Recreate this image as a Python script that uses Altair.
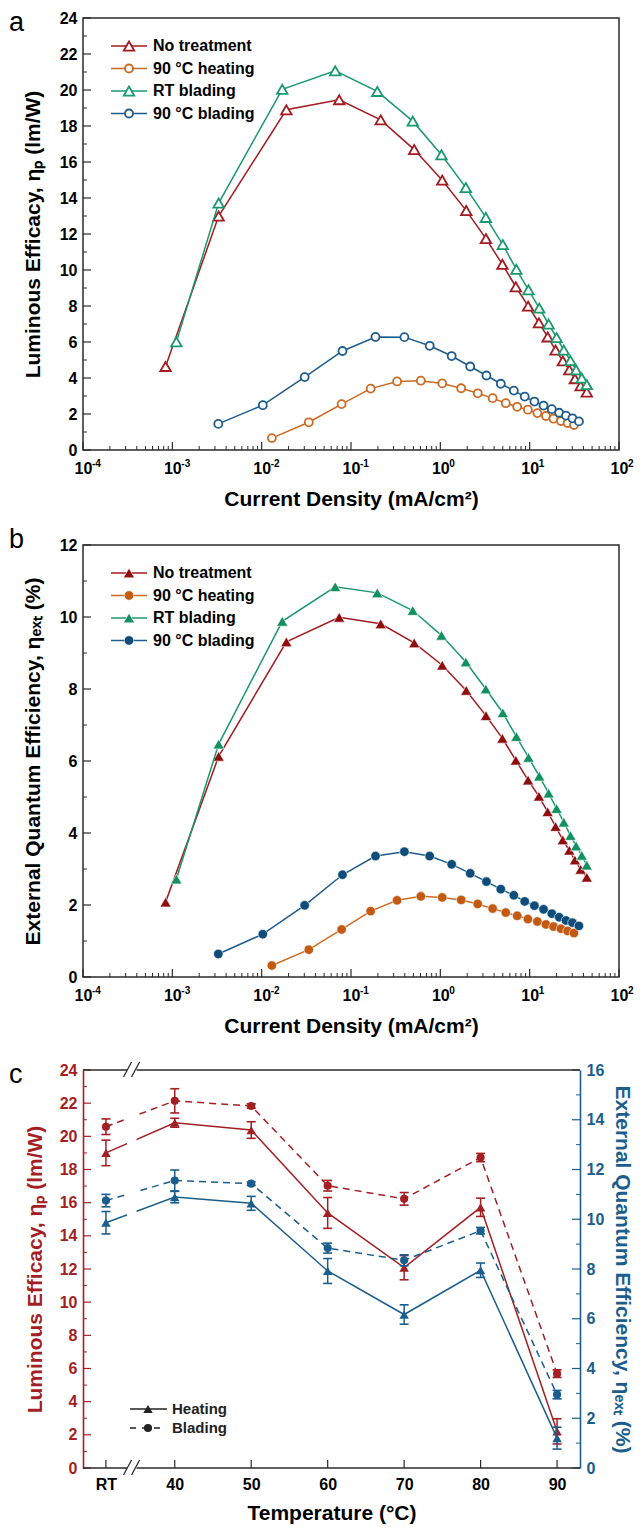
import altair as alt
import pandas as pd

# ---------------- Panel a / b data (current density, mA/cm2) ----------------
J_NT = [0.00084, 0.0033, 0.0189, 0.0738, 0.215, 0.51, 1.05, 1.95, 3.24, 4.95,
        7.0, 9.6, 12.7, 15.9, 19.5, 23.5, 27.8, 32.1, 37.2, 43.6]
LE_NT = [4.64, 13.0, 18.9, 19.46, 18.34, 16.69, 14.99, 13.3, 11.74, 10.31,
         9.07, 7.99, 7.07, 6.28, 5.55, 4.95, 4.45, 3.96, 3.57, 3.22]
EQE_NT = [2.08, 6.13, 9.31, 9.99, 9.81, 9.28, 8.66, 7.96, 7.26, 6.63,
          6.02, 5.47, 5.02, 4.59, 4.18, 3.81, 3.52, 3.25, 2.99, 2.77]

J_RT = [0.00111, 0.0033, 0.017, 0.0666, 0.197, 0.491, 1.03, 1.93, 3.23, 5.0,
        7.1, 9.7, 12.8, 16.3, 20.0, 24.1, 28.6, 33.1, 38.3, 43.6]
LE_RT = [6.01, 13.72, 20.04, 21.07, 19.92, 18.27, 16.4, 14.58, 12.92, 11.41,
         10.04, 8.9, 7.88, 7.0, 6.25, 5.55, 4.97, 4.45, 3.99, 3.63]
EQE_RT = [2.72, 6.47, 9.88, 10.84, 10.67, 10.18, 9.49, 8.75, 8.0, 7.34,
          6.68, 6.10, 5.58, 5.11, 4.68, 4.30, 3.93, 3.64, 3.38, 3.11]

J_H90 = [0.013, 0.0337, 0.0785, 0.166, 0.328, 0.605, 1.05, 1.71, 2.62, 3.85,
         5.4, 7.25, 9.55, 12.2, 15.2, 18.5, 22.4, 26.6, 31.3]
LE_H90 = [0.66, 1.54, 2.55, 3.41, 3.81, 3.85, 3.70, 3.43, 3.15, 2.88,
          2.60, 2.40, 2.24, 2.05, 1.89, 1.74, 1.61, 1.50, 1.39]
EQE_H90 = [0.32, 0.76, 1.32, 1.83, 2.13, 2.24, 2.21, 2.14, 2.03, 1.90,
           1.79, 1.70, 1.61, 1.54, 1.46, 1.40, 1.34, 1.28, 1.22]

J_B90 = [0.00327, 0.0103, 0.0303, 0.0803, 0.188, 0.396, 0.76, 1.34, 2.16, 3.28,
         4.75, 6.65, 8.8, 11.3, 14.3, 17.7, 21.4, 25.5, 30.1, 35.6]
LE_B90 = [1.45, 2.49, 4.05, 5.50, 6.28, 6.27, 5.79, 5.22, 4.64, 4.14,
          3.68, 3.30, 2.97, 2.69, 2.47, 2.27, 2.07, 1.91, 1.76, 1.59]
EQE_B90 = [0.64, 1.19, 1.99, 2.84, 3.36, 3.48, 3.36, 3.13, 2.88, 2.65,
           2.44, 2.27, 2.10, 1.98, 1.88, 1.76, 1.66, 1.57, 1.51, 1.42]

SERIES_NAMES = ["No treatment", "90 °C heating", "RT blading", "90 °C blading"]

# ---------------- Panel c data ----------------
TEMP_LABELS = ["RT", "40", "50", "60", "70", "80", "90"]
TEMP_POS = [31, 40, 50, 60, 70, 80, 90]
LE_HEAT = [19.0, 20.82, 20.38, 15.38, 12.08, 15.72, 2.21]
LE_HEAT_ERR = [0.77, 0.27, 0.5, 0.93, 0.73, 0.55, 0.76]
LE_BLADE = [20.58, 22.14, 21.83, 17.02, 16.23, 18.72, 5.69]
LE_BLADE_ERR = [0.47, 0.73, 0.13, 0.32, 0.38, 0.25, 0.23]
EQE_HEAT = [9.86, 10.89, 10.64, 7.92, 6.17, 7.95, 1.2]
EQE_HEAT_ERR = [0.45, 0.23, 0.28, 0.5, 0.39, 0.29, 0.44]
EQE_BLADE = [10.75, 11.56, 11.43, 8.84, 8.35, 9.54, 2.95]
EQE_BLADE_ERR = [0.25, 0.42, 0.07, 0.2, 0.22, 0.13, 0.17]

# ---------------- tick arrays ----------------
DECADES = [1e-4, 1e-3, 1e-2, 1e-1, 1e0, 1e1, 1e2]
DECADE_EXP = ["-4", "-3", "-2", "-1", "0", "1", "2"]
MINOR_X = [k * d for d in DECADES[:-1] for k in range(2, 10)]

# ---------------- styles ----------------
FONT = "Liberation Sans"
AX = "#2b2b2b"
RED, ORANGE, GREEN, BLUE = "#A31B20", "#CC6A22", "#1A9A6C", "#1D5C8C"
RED_F, ORANGE_F, GREEN_F, BLUE_F = "#8E0E10", "#C25A12", "#13905F", "#0E4C7A"
C_RED, C_BLUE = "#A31F24", "#1B5E8D"
TITLE_SIZE = 21

W_AB, H_AB = 536, 432
W_C, H_C = 497, 398
LETTER_X = -74
ONE = pd.DataFrame({"k": [0]})


def letter_layer(letter, y):
    return alt.Chart(ONE).mark_text(
        align="left", baseline="alphabetic", font=FONT, fontSize=27, color="black"
    ).encode(x=alt.value(LETTER_X), y=alt.value(y), text=alt.value(letter))


def log_panel(letter, letter_y, ys_list, y_max, y_title, filled):
    W, H = W_AB, H_AB
    xs = alt.Scale(type="log", domain=[1e-4, 1e2], nice=False)
    ys = alt.Scale(domain=[0, y_max], nice=False, zero=True)
    xax = alt.Axis(values=DECADES, labelExpr="'10'", ticks=False, domain=False, grid=False,
                   labelFlush=False, labelOverlap=False, labelFont=FONT, labelFontSize=16,
                   labelFontWeight="bold", labelColor="black", labelPadding=10,
                   title="Current Density (mA/cm²)", titleFont=FONT, titleFontSize=TITLE_SIZE,
                   titleFontWeight="bold", titleColor="black", titlePadding=12)
    yax = alt.Axis(values=list(range(0, y_max + 1, 2)), ticks=False, domain=False, grid=False,
                   labelFont=FONT, labelFontSize=16, labelFontWeight="bold", labelColor="black",
                   labelPadding=6, labelOverlap=False, title=y_title, titleFont=FONT,
                   titleFontSize=TITLE_SIZE, titleFontWeight="bold", titleColor="black", titlePadding=16)
    X = alt.X("x:Q", scale=xs, axis=xax)
    Y = alt.Y("y:Q", scale=ys, axis=yax)
    layers = []
    layers.append(alt.Chart(pd.DataFrame({"x": MINOR_X})).mark_rule(color=AX, strokeWidth=1)
                  .encode(x=X, y=alt.value(H), y2=alt.value(H - 4)))
    layers.append(alt.Chart(pd.DataFrame({"x": DECADES})).mark_rule(color=AX, strokeWidth=1.2)
                  .encode(x=X, y=alt.value(H), y2=alt.value(H - 8)))
    layers.append(alt.Chart(pd.DataFrame({"y": list(range(0, y_max + 1, 2))})).mark_rule(color=AX, strokeWidth=1.2)
                  .encode(y=Y, x=alt.value(0), x2=alt.value(8)))
    layers.append(alt.Chart(pd.DataFrame({"y": list(range(1, y_max, 2))})).mark_rule(color=AX, strokeWidth=1)
                  .encode(y=Y, x=alt.value(0), x2=alt.value(4)))
    layers.append(alt.Chart(pd.DataFrame({"x": DECADES, "e": DECADE_EXP})).mark_text(
        align="left", baseline="top", dx=9, font=FONT, fontSize=10, fontWeight="bold", color="black"
    ).encode(x=X, y=alt.value(H + 9), text="e:N"))

    xs_list = [J_NT, J_H90, J_RT, J_B90]
    colors = [RED, ORANGE, GREEN, BLUE] if not filled else [RED_F, ORANGE_F, GREEN_F, BLUE_F]
    line_colors = [RED, ORANGE, GREEN, BLUE]
    shapes = ["triangle-up", "circle", "triangle-up", "circle"]
    for xv, yv, col, lcol, shp in zip(xs_list, ys_list, colors, line_colors, shapes):
        df = pd.DataFrame({"x": xv, "y": yv})
        layers.append(alt.Chart(df).mark_line(color=lcol, strokeWidth=1.5).encode(x=X, y=Y))
        if filled:
            size = 125 if shp == "triangle-up" else 90
            pt = alt.Chart(df).mark_point(shape=shp, size=size, filled=True, fill=col, stroke="white",
                                          strokeWidth=0.6, opacity=1)
        else:
            size = 110 if shp == "triangle-up" else 64
            pt = alt.Chart(df).mark_point(shape=shp, size=size, filled=True, fill="white", stroke=lcol,
                                          strokeWidth=1.8, opacity=1)
        layers.append(pt.encode(x=X, y=Y))

    # legend
    for i, (name, col, lcol, shp) in enumerate(zip(SERIES_NAMES, colors, line_colors, shapes)):
        ly = 28 + i * 22.5
        layers.append(alt.Chart(ONE).mark_rule(color=lcol, strokeWidth=1.5)
                      .encode(x=alt.value(28), x2=alt.value(64), y=alt.value(ly)))
        if filled:
            size = 125 if shp == "triangle-up" else 90
            m = alt.Chart(ONE).mark_point(shape=shp, size=size, filled=True, fill=col, stroke="white",
                                          strokeWidth=0.6, opacity=1)
        else:
            size = 110 if shp == "triangle-up" else 64
            m = alt.Chart(ONE).mark_point(shape=shp, size=size, filled=True, fill="white", stroke=lcol,
                                          strokeWidth=1.8, opacity=1)
        layers.append(m.encode(x=alt.value(46), y=alt.value(ly)))
        layers.append(alt.Chart(ONE).mark_text(align="left", baseline="middle", font=FONT, fontSize=16,
                                               fontWeight="bold", color="black")
                      .encode(x=alt.value(70), y=alt.value(ly), text=alt.value(name)))
    layers.append(letter_layer(letter, letter_y))
    return alt.layer(*layers).properties(width=W, height=H)


pa = log_panel("a", 13, [LE_NT, LE_H90, LE_RT, LE_B90], 24, "Luminous Efficacy, ηₚ (lm/W)", False)
pb = log_panel("b", 3, [EQE_NT, EQE_H90, EQE_RT, EQE_B90], 12,
               "External Quantum Efficiency, ηₑₓₜ (%)", True)

# ---------------- Panel c ----------------
W, H = W_C, H_C
xs_c = alt.Scale(domain=[28, 93], nice=False, zero=False)
xax_c = alt.Axis(values=TEMP_POS, labelExpr="datum.value == 31 ? 'RT' : datum.label", ticks=False,
                 domain=False, grid=False, labelFlush=False, labelOverlap=False, labelFont=FONT,
                 labelFontSize=16, labelFontWeight="bold", labelColor="black", labelPadding=8,
                 title="Temperature (°C)", titleFont=FONT, titleFontSize=TITLE_SIZE, titleFontWeight="bold",
                 titleColor="black", titlePadding=10)
ys_l = alt.Scale(domain=[0, 24], nice=False)
ys_r = alt.Scale(domain=[0, 16], nice=False)
yax_l = alt.Axis(orient="left", values=list(range(0, 25, 2)), ticks=False, grid=False, domain=True,
                 domainColor=C_RED, domainWidth=1.6, labelColor=C_RED, labelFont=FONT, labelFontSize=16,
                 labelFontWeight="bold", labelPadding=6, title="Luminous Efficacy, ηₚ (lm/W)",
                 titleColor=C_RED, titleFont=FONT, titleFontSize=TITLE_SIZE, titleFontWeight="bold",
                 titlePadding=14)
yax_r = alt.Axis(orient="right", values=list(range(0, 17, 2)), ticks=False, grid=False, domain=True,
                 domainColor=C_BLUE, domainWidth=1.6, labelColor=C_BLUE, labelFont=FONT, labelFontSize=16,
                 labelFontWeight="bold", labelPadding=6, title="External Quantum Efficiency, ηₑₓₜ (%)",
                 titleColor=C_BLUE, titleFont=FONT, titleFontSize=TITLE_SIZE, titleFontWeight="bold",
                 titlePadding=8)
Xc = alt.X("x:Q", scale=xs_c, axis=xax_c)


def err_df(vals, errs):
    return pd.DataFrame({"x": TEMP_POS, "y": vals,
                         "lo": [v - e for v, e in zip(vals, errs)],
                         "hi": [v + e for v, e in zip(vals, errs)]})


def series_layers(df, color, yscale, yaxis, dashed, shape):
    Yv = alt.Y("y:Q", scale=yscale, axis=yaxis)
    Ylo = alt.Y("lo:Q", scale=yscale, axis=yaxis)
    Yhi = alt.Y("hi:Q", scale=yscale, axis=yaxis)
    lk = dict(color=color, strokeWidth=1.5)
    if dashed:
        lk["strokeDash"] = [7, 5]
    out = [alt.Chart(df).mark_line(**lk).encode(x=Xc, y=Yv),
           alt.Chart(df).mark_rule(color=color, strokeWidth=1.5).encode(x=Xc, y=Ylo, y2="hi:Q"),
           alt.Chart(df).mark_tick(orient="horizontal", size=9, thickness=1.6, color=color, opacity=1)
           .encode(x=Xc, y=Ylo),
           alt.Chart(df).mark_tick(orient="horizontal", size=9, thickness=1.6, color=color, opacity=1)
           .encode(x=Xc, y=Yhi),
           alt.Chart(df).mark_point(shape=shape, size=90 if shape == "triangle-up" else 66, filled=True,
                                    color=color, opacity=1).encode(x=Xc, y=Yv)]
    return out


Yl = alt.Y("y:Q", scale=ys_l, axis=yax_l)
Yr = alt.Y("y:Q", scale=ys_r, axis=yax_r)

left_layers = [
    alt.Chart(pd.DataFrame({"y": list(range(0, 25, 2))})).mark_rule(color=C_RED, strokeWidth=1.2)
    .encode(y=Yl, x=alt.value(0), x2=alt.value(8)),
    alt.Chart(pd.DataFrame({"y": list(range(1, 24, 2))})).mark_rule(color=C_RED, strokeWidth=1)
    .encode(y=Yl, x=alt.value(0), x2=alt.value(4)),
    alt.Chart(pd.DataFrame({"x": TEMP_POS})).mark_rule(color=AX, strokeWidth=1.2)
    .encode(x=Xc, y=alt.value(H), y2=alt.value(H - 8)),
]
left_layers += series_layers(err_df(LE_HEAT, LE_HEAT_ERR), C_RED, ys_l, yax_l, False, "triangle-up")
left_layers += series_layers(err_df(LE_BLADE, LE_BLADE_ERR), C_RED, ys_l, yax_l, True, "circle")

right_layers = [
    alt.Chart(pd.DataFrame({"y": list(range(0, 17, 2))})).mark_rule(color=C_BLUE, strokeWidth=1.2)
    .encode(y=Yr, x=alt.value(W), x2=alt.value(W - 8)),
    alt.Chart(pd.DataFrame({"y": list(range(1, 16, 2))})).mark_rule(color=C_BLUE, strokeWidth=1)
    .encode(y=Yr, x=alt.value(W), x2=alt.value(W - 4)),
]
right_layers += series_layers(err_df(EQE_HEAT, EQE_HEAT_ERR), C_BLUE, ys_r, yax_r, False, "triangle-up")
right_layers += series_layers(err_df(EQE_BLADE, EQE_BLADE_ERR), C_BLUE, ys_r, yax_r, True, "circle")

# axis break (between RT and 40)
BREAK_GAP = pd.DataFrame({"x": [33.75], "x2": [35.0]})
AXIS_SEGMENTS = pd.DataFrame({"x": [28, 35.0], "x2": [33.75, 93]})
BREAK_SLASHES = pd.DataFrame({"x": [33.3, 34.35], "x2": [34.35, 35.4]})

right_layers.append(alt.Chart(BREAK_GAP).mark_rect(color="white", opacity=1)
                    .encode(x=Xc, x2="x2:Q", y=alt.value(-2), y2=alt.value(H + 2)))
for yy in (0, H):
    right_layers.append(alt.Chart(AXIS_SEGMENTS).mark_rule(color=AX, strokeWidth=1.6)
                        .encode(x=Xc, x2="x2:Q", y=alt.value(yy)))
    right_layers.append(alt.Chart(BREAK_SLASHES).mark_rule(color=AX, strokeWidth=1.3)
                        .encode(x=Xc, x2="x2:Q", y=alt.value(yy + 7), y2=alt.value(yy - 8)))

# legend for panel c
LEG_Y = [H - 59, H - 40]
right_layers.append(alt.Chart(ONE).mark_rule(color="#222222", strokeWidth=1.4)
                    .encode(x=alt.value(47), x2=alt.value(84), y=alt.value(LEG_Y[0])))
right_layers.append(alt.Chart(ONE).mark_point(shape="triangle-up", size=90, filled=True, color="#222222",
                                              opacity=1).encode(x=alt.value(65), y=alt.value(LEG_Y[0])))
right_layers.append(alt.Chart(ONE).mark_rule(color="#222222", strokeWidth=1.4, strokeDash=[6, 6])
                    .encode(x=alt.value(47), x2=alt.value(80), y=alt.value(LEG_Y[1])))
right_layers.append(alt.Chart(ONE).mark_point(shape="circle", size=66, filled=True, color="#222222",
                                              opacity=1).encode(x=alt.value(65), y=alt.value(LEG_Y[1])))
for ly, name in zip(LEG_Y, ["Heating", "Blading"]):
    right_layers.append(alt.Chart(ONE).mark_text(align="left", baseline="middle", font=FONT, fontSize=15,
                                                 fontWeight="bold", color="#222222")
                        .encode(x=alt.value(89), y=alt.value(ly), text=alt.value(name)))
right_layers.append(letter_layer("c", 13))

pc = alt.layer(alt.layer(*left_layers), alt.layer(*right_layers)).resolve_scale(
    y="independent").properties(width=W_C, height=H_C, view=alt.ViewBackground(stroke="transparent"))

chart = alt.vconcat(alt.vconcat(pa, pb, spacing=15), pc, spacing=23).configure_view(
    stroke=AX, strokeWidth=1.5).properties(padding=0, background="white")

chart.save("out.html", embed_options={"renderer": "svg", "actions": False})
